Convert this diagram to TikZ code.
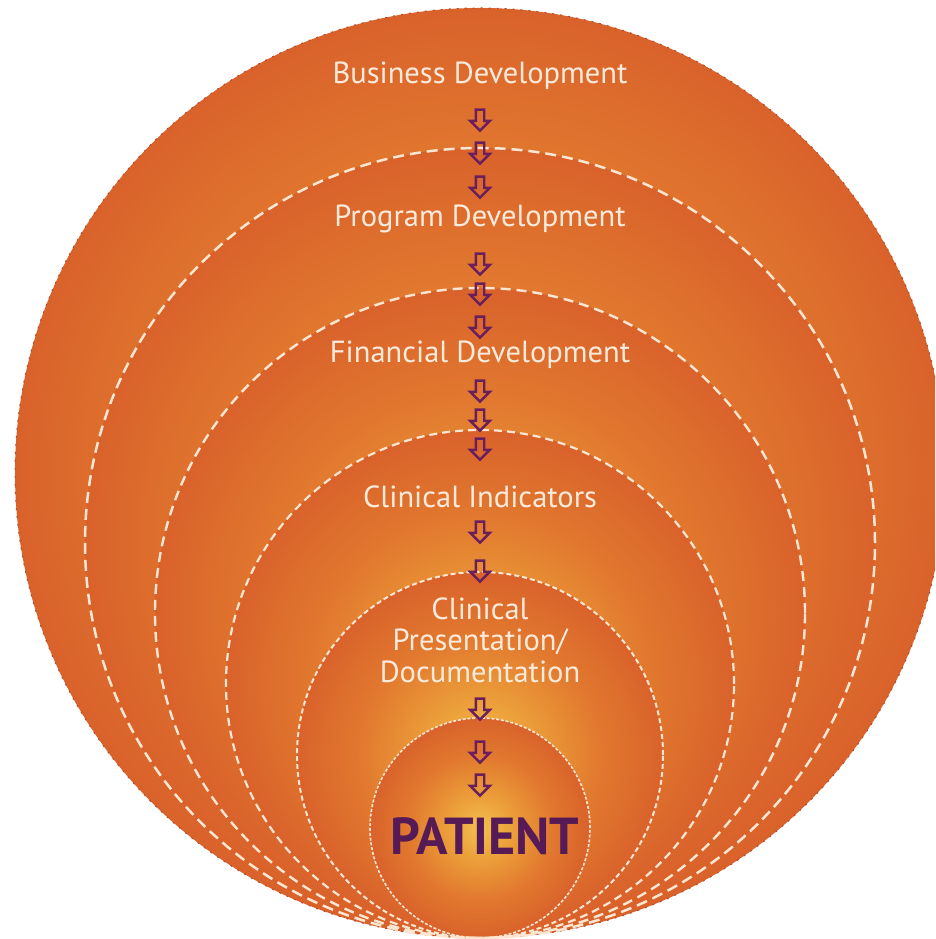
\documentclass[tikz,border=0pt]{standalone}
\usepackage{fontspec}
\setmainfont{PT Sans}
\usetikzlibrary{positioning,shapes.arrows}

\definecolor{glowA}{HTML}{F3C050}
\definecolor{glowB}{HTML}{ECA03A}
\definecolor{glowC}{HTML}{E27A2F}
\definecolor{glowD}{HTML}{D9622B}
\definecolor{glowE}{HTML}{D04E28}
\definecolor{labelcream}{HTML}{FCEBDC}
\definecolor{dashcream}{HTML}{FCE6D2}
\definecolor{arrowplum}{HTML}{6A1F5C}
\definecolor{patientplum}{HTML}{561A57}
\definecolor{rimdark}{HTML}{B44A2C}

% circle edge sits at about 35.4bp of the shading
\pgfdeclareradialshading{ringglow}{\pgfpoint{0bp}{0bp}}{%
  color(0bp)=(glowA); color(7bp)=(glowB); color(16bp)=(glowC);
  color(25bp)=(glowD); color(35.4bp)=(glowE); color(50bp)=(glowE)}

\tikzset{
  ring/.style={shading=ringglow},
  rim/.style={draw=dashcream, line width=#1},
  stage/.style={text=labelcream, font=\fontsize{30.5}{31.5}\selectfont, align=center, inner sep=0pt},
  downarr/.style={single arrow, shape border rotate=270, draw=arrowplum, line width=2.4pt,
    minimum height=21pt, minimum width=19pt, single arrow head extend=5.5pt, inner sep=3pt}
}

\begin{document}
\begin{tikzpicture}[x=1pt,y=1pt]
  \useasboundingbox (0,0) rectangle (935,939);
  \clip (0,0) rectangle (935,939);

  % Nested rings, all touching at the bottom
  \shade[ring] (480,466) circle[radius=465];
  \shade[ring] (480,396) circle[radius=395];
  \shade[ring] (480,326) circle[radius=325];
  \shade[ring] (480,255) circle[radius=254];
  \shade[ring] (480,184) circle[radius=183];
  \shade[ring] (480,111) circle[radius=110];

  % Dashed rims
  \draw[draw=rimdark, line width=1pt, dash pattern=on 2pt off 6pt] (480,466) circle[radius=465];
  \draw[rim=2.5pt, dash pattern=on 11pt off 6pt] (480,396) circle[radius=395];
  \draw[rim=2.4pt, dash pattern=on 10pt off 6pt] (480,326) circle[radius=325];
  \draw[rim=2.2pt, dash pattern=on 8pt off 5pt] (480,255) circle[radius=254];
  \draw[rim=2pt, dash pattern=on 5pt off 3pt] (480,184) circle[radius=183];
  \draw[rim=1.6pt, dash pattern=on 3pt off 1.8pt] (480,111) circle[radius=110];

  % Stages
  \node[stage] (bus) at (480,863) {Business Development};
  \node[downarr] (b1) at (480,821) {};
  \node[downarr] (b2) at (480,788) {};
  \node[downarr] (b3) at (480,754) {};

  \node[stage] (prog) at (480,720) {Program Development};
  \node[downarr] (p1) at (480,677) {};
  \node[downarr] (p2) at (480,647) {};
  \node[downarr] (p3) at (480,614) {};

  \node[stage] (fin) at (480,584) {Financial Development};
  \node[downarr] (f1) at (480,550) {};
  \node[downarr] (f2) at (480,521) {};
  \node[downarr] (f3) at (480,492) {};

  \node[stage] (ind) at (480,442) {Clinical Indicators};
  \node[downarr] (i1) at (480,409) {};
  \node[downarr] (i2) at (480,370) {};

  \node[stage] (doc) at (480,299) {Clinical\\Presentation/\\Documentation};
  \node[downarr] (d1) at (480,232) {};
  \node[downarr] (d2) at (480,189) {};
  \node[downarr] (d3) at (480,156) {};

  % Centre
  \node[text=patientplum, font=\bfseries\fontsize{52}{52}\selectfont, inner sep=0pt] (pat) at (485,103) {PATIENT};
\end{tikzpicture}
\end{document}
